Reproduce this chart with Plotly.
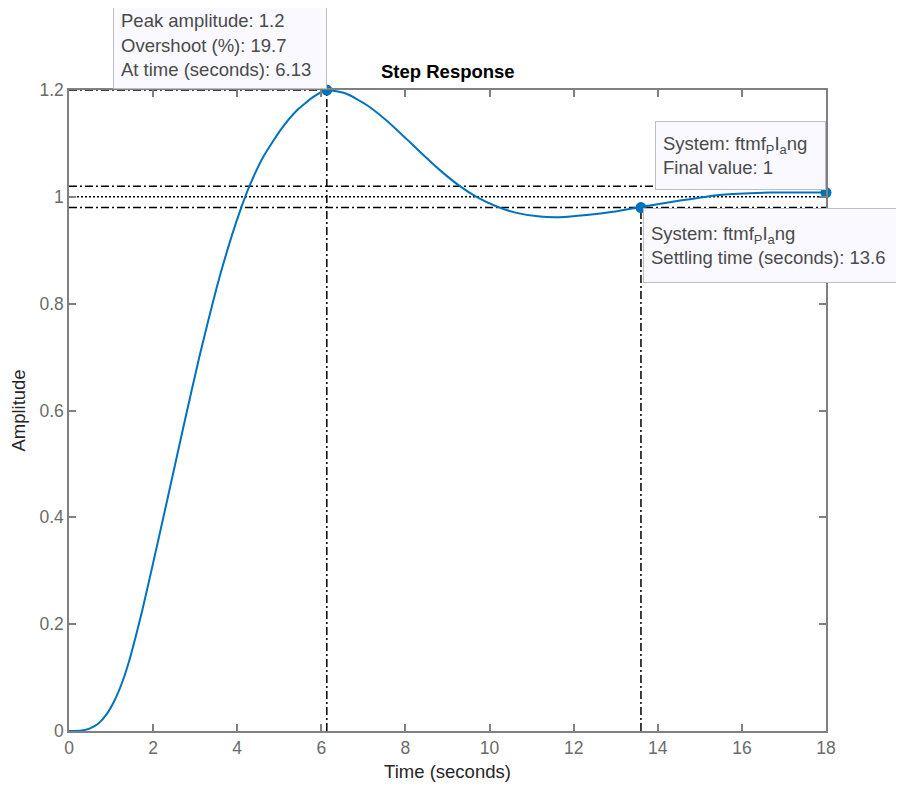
import plotly.graph_objects as go

# ---- data ----
time = [0, 0.3, 0.5, 0.7, 0.9, 1.1, 1.25, 1.4, 1.73, 1.97, 2.32, 2.72, 3.11,
        3.51, 3.87, 4.11, 4.30, 4.62, 5.02, 5.41, 5.81, 6.13, 6.60, 7.08, 7.55,
        8.03, 8.35, 8.82, 9.26, 9.69, 10.17, 10.64, 11.2, 11.67, 12.31, 12.94,
        13.6, 14.53, 15.47, 16.67, 18]
amplitude = [0, 0.001, 0.005, 0.014, 0.032, 0.06, 0.088, 0.123, 0.222, 0.304,
             0.427, 0.569, 0.704, 0.830, 0.927, 0.983, 1.022, 1.075, 1.124, 1.161,
             1.187, 1.2, 1.193, 1.172, 1.143, 1.108, 1.084, 1.050, 1.022, 1.0,
             0.982, 0.970, 0.963, 0.962, 0.966, 0.972, 0.981, 0.993, 1.0035,
             1.008, 1.008]

peak_time = 6.13
peak_amp = 1.2
overshoot = 19.7
settling_time = 13.6
final_value = 1
settle_band = [0.98, 1.02]
t_end = 18
system_name = "ftmf<sub>P</sub>I<sub>a</sub>ng"

x_ticks = [0, 2, 4, 6, 8, 10, 12, 14, 16, 18]
y_ticks = [0, 0.2, 0.4, 0.6, 0.8, 1.0, 1.2]
y_tick_labels = ["0", "0.2", "0.4", "0.6", "0.8", "1", "1.2"]

BLUE = "#0072BD"
FONT = "Liberation Sans, Arial, Helvetica, sans-serif"
AXC = "#808080"
TICKC = "#6b6b6b"

fig = go.Figure()

ref_line = dict(color="black", width=1.5, dash="8px,3px,2px,3px")

# peak lines
fig.add_trace(go.Scatter(x=[0, peak_time], y=[peak_amp, peak_amp], mode="lines",
                         line=ref_line, cliponaxis=False, hoverinfo="skip"))
fig.add_trace(go.Scatter(x=[peak_time, peak_time], y=[0, peak_amp], mode="lines",
                         line=ref_line, cliponaxis=False, hoverinfo="skip"))
# settling band
for v in settle_band:
    fig.add_trace(go.Scatter(x=[0, t_end], y=[v, v], mode="lines",
                             line=ref_line, hoverinfo="skip"))
# final value dotted
fig.add_trace(go.Scatter(x=[0, t_end], y=[final_value, final_value], mode="lines",
                         line=dict(color="black", width=1.5, dash="2px,2px"),
                         hoverinfo="skip"))
# settling time vertical
fig.add_trace(go.Scatter(x=[settling_time, settling_time], y=[0, settle_band[0]],
                         mode="lines", line=ref_line, hoverinfo="skip"))

# response
fig.add_trace(go.Scatter(x=time, y=amplitude, mode="lines",
                         line=dict(color=BLUE, width=2, shape="spline", smoothing=0.5),
                         cliponaxis=False))

# markers
fig.add_trace(go.Scatter(x=[peak_time, settling_time, time[-1]],
                         y=[peak_amp, settle_band[0], amplitude[-1]],
                         mode="markers", marker=dict(color=BLUE, size=11),
                         cliponaxis=False))

tip = dict(showarrow=False, bgcolor="#f9f9ff", bordercolor="#bdbdc4",
           borderwidth=1, borderpad=7, align="left", valign="middle",
           font=dict(family=FONT, size=18.5, color="#4a4a4a"),
           xref="x", yref="y")

fig.add_annotation(x=peak_time, y=peak_amp, xanchor="right", yanchor="bottom",
                   yshift=1, width=198, height=72,
                   text=f"Peak amplitude: {peak_amp}<br>Overshoot (%): {overshoot}"
                        f"<br>At time (seconds): {peak_time}", **tip)
fig.add_annotation(x=t_end, y=amplitude[-1], xanchor="right", yanchor="bottom",
                   yshift=3, width=155, height=53,
                   text=f"System: {system_name}<br>Final value: {final_value}", **tip)
fig.add_annotation(x=settling_time, y=settle_band[0], xanchor="left", yanchor="top",
                   xshift=2, width=244, height=59,
                   text=f"System: {system_name}<br>Settling time (seconds): {settling_time}",
                   **tip)

fig.add_annotation(x=0.5, y=1, xref="paper", yref="paper", xanchor="center",
                   yanchor="bottom", yshift=6, showarrow=False,
                   text="<b>Step Response</b>",
                   font=dict(family=FONT, size=18.5, color="black"))

axis_common = dict(showgrid=False, zeroline=False, showline=True, linecolor=AXC,
                   linewidth=1.5, mirror="ticks", ticks="inside", ticklen=7,
                   tickwidth=1.5, tickcolor=AXC,
                   tickfont=dict(family=FONT, size=17.5, color=TICKC))

fig.update_xaxes(range=[0, 18], tickvals=x_ticks, **axis_common,
                 title=dict(text="Time (seconds)", standoff=8,
                            font=dict(family=FONT, size=18.5, color="#262626")))
fig.update_yaxes(range=[0, 1.2], tickvals=y_ticks, ticktext=y_tick_labels,
                 **axis_common,
                 title=dict(text="Amplitude", standoff=16,
                            font=dict(family=FONT, size=18.5, color="#262626")))

# page has an 8px body margin: figure spans 8..904 horizontally, 8..794 vertically
fig.update_layout(width=896, height=786, showlegend=False,
                  margin=dict(l=61, r=78, t=82, b=63, autoexpand=False),
                  paper_bgcolor="white", plot_bgcolor="white",
                  font=dict(family=FONT))

fig.write_html("out.html")
